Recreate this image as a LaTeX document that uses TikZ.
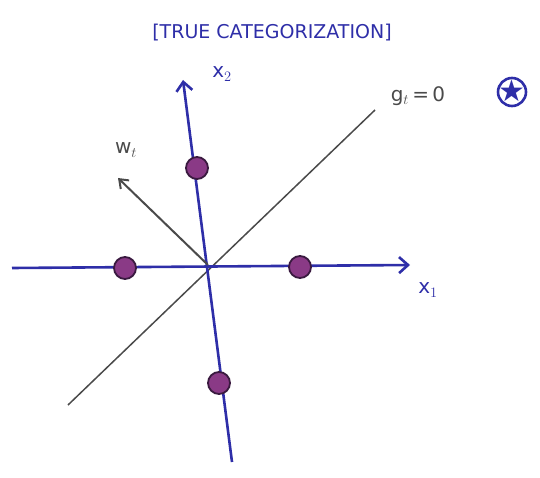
\documentclass[tikz,border=0pt]{standalone}
\usepackage{fontspec}
\setmainfont{DejaVu Sans}
\usetikzlibrary{arrows.meta}
\definecolor{penblue}{HTML}{2E2EA8}
\definecolor{pengray}{HTML}{4A4A4A}
\definecolor{dotfill}{HTML}{8A3A86}
\definecolor{dotline}{HTML}{3A1A40}
\tikzset{
  axis/.style={penblue, line width=2.6pt, -{Straight Barb[length=9pt,width=16pt]}},
  grayline/.style={pengray, line width=1.5pt},
  pt/.style={circle, fill=dotfill, draw=dotline, line width=1.8pt, minimum size=22pt, inner sep=0pt},
  bluelabel/.style={penblue, font=\fontsize{20}{24}\selectfont},
  graylabel/.style={pengray, font=\fontsize{20}{24}\selectfont}
}
\begin{document}
\begin{tikzpicture}[x=1pt,y=-1pt]
\useasboundingbox (0,0) rectangle (540,478);
\node[penblue, font=\fontsize{19}{22}\selectfont] (title) at (272,33) {[TRUE CATEGORIZATION]};
% axes
\coordinate (o) at (208,265);
\coordinate (x1s) at (12,268);
\coordinate (x1e) at (410,265);
\coordinate (x2s) at (232,462);
\coordinate (x2e) at (183,80);
\draw[grayline] (68,405) coordinate (gs) -- (375,110) coordinate (ge);
\draw[axis] (x1s) -- (x1e);
\draw[axis] (x2s) -- (x2e);
\draw[grayline, line width=2pt, -{Straight Barb[length=8pt,width=12pt]}] (o) -- (118,178) coordinate (w);
% labels
\node[bluelabel] (lx2) at (222,74) {x$_2$};
\node[bluelabel] (lx1) at (428,290) {x$_1$};
\node[graylabel] (lg) at (418,96) {g$_t$\,=\,0};
\node[graylabel] (lw) at (126,150) {w$_t$};
% points
\node[pt] (p1) at (197,168) {};
\node[pt] (p2) at (125,268) {};
\node[pt] (p3) at (300,267) {};
\node[pt] (p4) at (219,383) {};
% star
\node[circle, draw=penblue, line width=2.6pt, minimum size=28pt, inner sep=0pt] (star) at (512,92) {};
\node[penblue, font=\fontsize{30}{30}\selectfont, inner sep=0pt] (starglyph) at (512,91) {★};
\end{tikzpicture}
\end{document}
